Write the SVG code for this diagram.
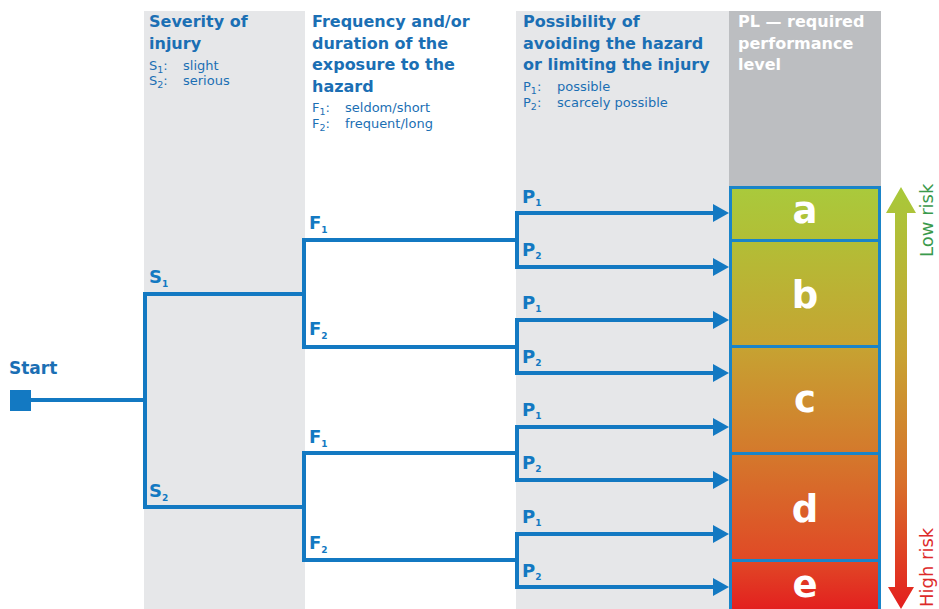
<svg xmlns="http://www.w3.org/2000/svg" width="939" height="609" viewBox="0 0 939 609">
<defs>
<style>
.hd{font-family:"DejaVu Sans","Liberation Sans",sans-serif;font-weight:bold;font-size:16px;fill:#1b6fb4}
.pl{font-family:"DejaVu Sans","Liberation Sans",sans-serif;font-weight:bold;font-size:16px;fill:#ffffff}
.sm{font-family:"DejaVu Sans","Liberation Sans",sans-serif;font-size:13px;fill:#1b6fb4}
.sub{font-size:9.5px}
.lb{font-family:"DejaVu Sans","Liberation Sans",sans-serif;font-weight:bold;font-size:18px;fill:#1379c2}
.lb .s{font-size:9px}
.big{font-family:"DejaVu Sans","Liberation Sans",sans-serif;font-weight:bold;font-size:37px;fill:#ffffff;text-anchor:middle}
.ln{fill:none;stroke:#1379c2;stroke-width:4}
.box{stroke:#1a84c8;stroke-width:3}
.risk{font-family:"DejaVu Sans","Liberation Sans",sans-serif;font-size:18px}
</style>
<linearGradient id="pg" gradientUnits="userSpaceOnUse" x1="0" y1="186" x2="0" y2="609">
<stop offset="0" stop-color="#a9ca3c"/>
<stop offset="0.13" stop-color="#b2be36"/>
<stop offset="0.38" stop-color="#c6a332"/>
<stop offset="0.63" stop-color="#d4792c"/>
<stop offset="0.88" stop-color="#e04a26"/>
<stop offset="1" stop-color="#e3201f"/>
</linearGradient>
<linearGradient id="ag" gradientUnits="userSpaceOnUse" x1="0" y1="187" x2="0" y2="609">
<stop offset="0" stop-color="#a8c93a"/>
<stop offset="0.4" stop-color="#c8a232"/>
<stop offset="0.7" stop-color="#d8702b"/>
<stop offset="1" stop-color="#e41e1e"/>
</linearGradient>
<marker id="ah" markerUnits="userSpaceOnUse" markerWidth="16" markerHeight="18" viewBox="0 0 16 18" refX="2" refY="9" orient="auto">
<path d="M0,0 L16,9 L0,18 z" fill="#1379c2"/>
</marker>
</defs>
<rect width="939" height="609" fill="#ffffff"/>
<g id="columns">
<rect x="144" y="11" width="161" height="598" fill="#e6e7e9"/>
<rect x="516" y="11" width="213" height="598" fill="#e6e7e9"/>
<rect x="729" y="11" width="152" height="176" fill="#bcbec1"/>
</g>
<g id="headers">
<text class="hd" x="149" y="27">Severity of</text>
<text class="hd" x="149" y="49">injury</text>
<text class="sm" x="149" y="70">S<tspan class="sub" dy="3">1</tspan><tspan dy="-3">:</tspan><tspan x="183">slight</tspan></text>
<text class="sm" x="149" y="85">S<tspan class="sub" dy="3">2</tspan><tspan dy="-3">:</tspan><tspan x="183">serious</tspan></text>
<text class="hd" x="312" y="27">Frequency and/or</text>
<text class="hd" x="312" y="48.5">duration of the</text>
<text class="hd" x="312" y="70">exposure to the</text>
<text class="hd" x="312" y="91.5">hazard</text>
<text class="sm" x="312" y="112">F<tspan class="sub" dy="3">1</tspan><tspan dy="-3">:</tspan><tspan x="345">seldom/short</tspan></text>
<text class="sm" x="312" y="128">F<tspan class="sub" dy="3">2</tspan><tspan dy="-3">:</tspan><tspan x="345">frequent/long</tspan></text>
<text class="hd" x="523" y="27">Possibility of</text>
<text class="hd" x="523" y="48.5">avoiding the hazard</text>
<text class="hd" x="523" y="70">or limiting the injury</text>
<text class="sm" x="523" y="91">P<tspan class="sub" dy="3">1</tspan><tspan dy="-3">:</tspan><tspan x="557">possible</tspan></text>
<text class="sm" x="523" y="107">P<tspan class="sub" dy="3">2</tspan><tspan dy="-3">:</tspan><tspan x="557">scarcely possible</tspan></text>
<text class="pl" x="738" y="27">PL — required</text>
<text class="pl" x="738" y="48.5">performance</text>
<text class="pl" x="738" y="70">level</text>
</g>
<g id="start">
<text x="9" y="374" font-family="DejaVu Sans, Liberation Sans, sans-serif" font-weight="bold" font-size="17" fill="#1b6fb4">Start</text>
<rect x="10" y="390" width="21" height="21" fill="#1379c2"/>
</g>
<g id="connectors">
<path class="ln" d="M31 400 H145"/>
<path class="ln" d="M304 294 H145 V507 H304"/>
<path class="ln" d="M517 240 H304 V347 H517"/>
<path class="ln" d="M517 453 H304 V560 H517"/>
<path class="ln" d="M517 211 V269"/>
<path class="ln" d="M517 318 V375"/>
<path class="ln" d="M517 425 V482"/>
<path class="ln" d="M517 532 V589"/>
<path class="ln" d="M515 213 H715" marker-end="url(#ah)"/>
<path class="ln" d="M515 267 H715" marker-end="url(#ah)"/>
<path class="ln" d="M515 320 H715" marker-end="url(#ah)"/>
<path class="ln" d="M515 373 H715" marker-end="url(#ah)"/>
<path class="ln" d="M515 427 H715" marker-end="url(#ah)"/>
<path class="ln" d="M515 480 H715" marker-end="url(#ah)"/>
<path class="ln" d="M515 534 H715" marker-end="url(#ah)"/>
<path class="ln" d="M515 587 H715" marker-end="url(#ah)"/>
</g>
<g id="branch-labels">
<text class="lb" x="149" y="283">S<tspan class="s" dy="4">1</tspan></text>
<text class="lb" x="149" y="497">S<tspan class="s" dy="4">2</tspan></text>
<text class="lb" x="309" y="229">F<tspan class="s" dy="4">1</tspan></text>
<text class="lb" x="309" y="335">F<tspan class="s" dy="4">2</tspan></text>
<text class="lb" x="309" y="443">F<tspan class="s" dy="4">1</tspan></text>
<text class="lb" x="309" y="549">F<tspan class="s" dy="4">2</tspan></text>
<text class="lb" x="522" y="203">P<tspan class="s" dy="3">1</tspan></text>
<text class="lb" x="522" y="256">P<tspan class="s" dy="3">2</tspan></text>
<text class="lb" x="522" y="309">P<tspan class="s" dy="3">1</tspan></text>
<text class="lb" x="522" y="363">P<tspan class="s" dy="3">2</tspan></text>
<text class="lb" x="522" y="416">P<tspan class="s" dy="3">1</tspan></text>
<text class="lb" x="522" y="469">P<tspan class="s" dy="3">2</tspan></text>
<text class="lb" x="522" y="523">P<tspan class="s" dy="3">1</tspan></text>
<text class="lb" x="522" y="577">P<tspan class="s" dy="3">2</tspan></text>
</g>
<g id="pl-a"><rect class="box" x="730.5" y="187.5" width="149" height="53" fill="url(#pg)"/><text class="big" x="805" y="223">a</text></g>
<g id="pl-b"><rect class="box" x="730.5" y="240.5" width="149" height="106" fill="url(#pg)"/><text class="big" x="805" y="308">b</text></g>
<g id="pl-c"><rect class="box" x="730.5" y="346.5" width="149" height="107" fill="url(#pg)"/><text class="big" x="805" y="412">c</text></g>
<g id="pl-d"><rect class="box" x="730.5" y="453.5" width="149" height="107" fill="url(#pg)"/><text class="big" x="805" y="522">d</text></g>
<g id="pl-e"><rect class="box" x="730.5" y="560.5" width="149" height="60" fill="url(#pg)"/><text class="big" x="805" y="597">e</text></g>
<g id="risk-arrow">
<path d="M901 187 L916 213 L907 213 L907 587 L914 587 L901 609 L888 587 L895 587 L895 213 L886 213 Z" fill="url(#ag)"/>
<text class="risk" fill="#3a9a4c" transform="translate(933,257) rotate(-90)">Low risk</text>
<text class="risk" fill="#dd2a2a" transform="translate(933,607) rotate(-90)">High risk</text>
</g>
</svg>
